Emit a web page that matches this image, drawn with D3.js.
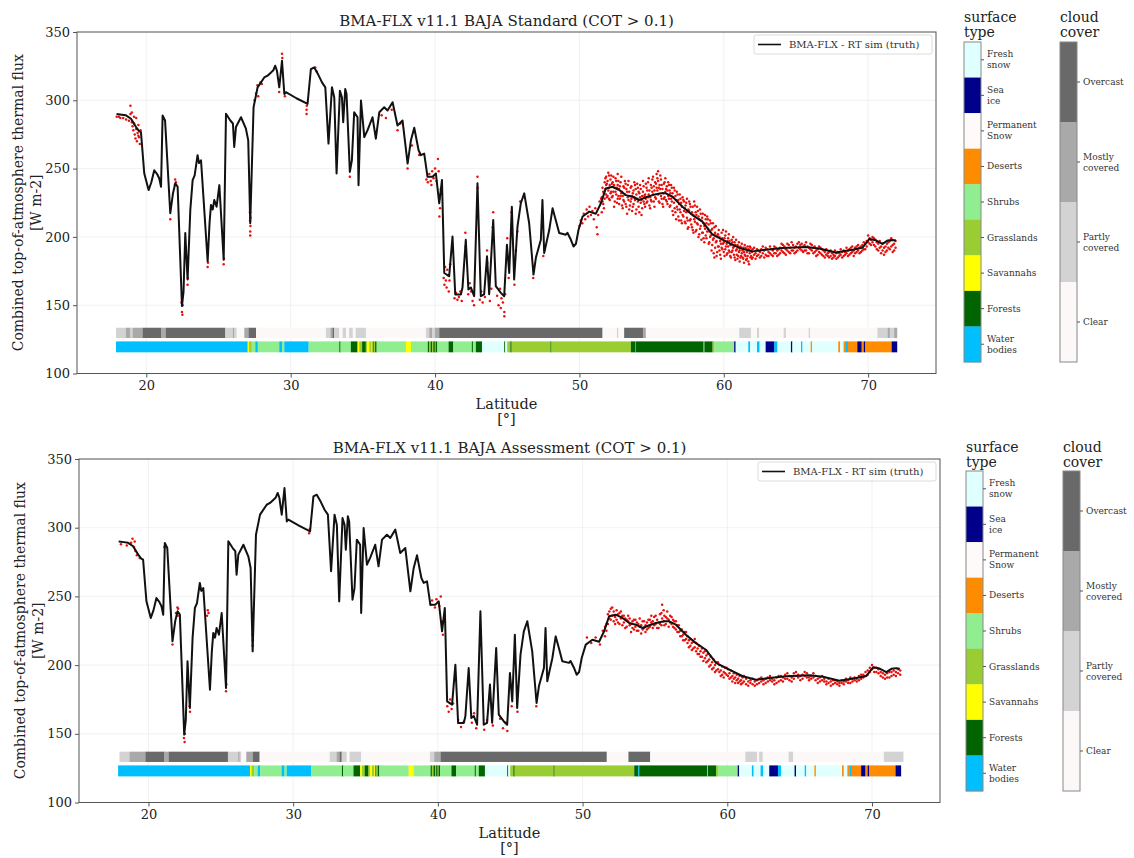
<!DOCTYPE html>
<html><head><meta charset="utf-8">
<script src="https://cdn.jsdelivr.net/npm/d3@7"></script>
<style>body{margin:0;background:#fff}svg{display:block;font-family:"DejaVu Serif",serif}</style>
</head><body><svg id="c" width="1134" height="858"></svg>
<script>
// ---------------- DATA ----------------
const xTicks = [20, 30, 40, 50, 60, 70];
const yTicks = [100, 150, 200, 250, 300, 350];
const xDomain = [15.2, 74.7];
const yDomain = [100, 350];

// BMA-FLX RT sim (truth): [latitude, flux]
const truth = [
[17.94,290],[18.3,289.5],[18.59,289],[18.94,286.5],[19.29,280.4],[19.5,277.5],[19.63,276.7],[19.86,246.4],[20.16,234.3],[20.35,240],[20.55,248.8],[20.75,246],[20.9,242.8],[21.02,236.7],[21.13,288.9],[21.3,285.2],[21.66,217.3],[21.85,232],[22.01,239.2],[22.17,236.7],[22.47,149.4],[22.58,160],[22.7,202.8],[22.86,168.8],[23.05,220],[23.21,241.6],[23.35,245],[23.55,259.8],[23.65,254],[23.79,256.1],[24.25,182.1],[24.38,210],[24.48,223.4],[24.6,220],[24.71,227],[24.87,222.1],[25.06,237.9],[25.36,183.3],[25.52,290.1],[25.82,285.2],[26.0,283],[26.09,265.8],[26.21,280.4],[26.56,287.6],[26.9,279.2],[27.06,270.7],[27.2,210],[27.43,294.9],[27.71,309.5],[28.17,316.7],[28.4,318],[28.64,320.4],[28.8,322],[28.93,325.3],[29.05,321.6],[29.21,309.5],[29.4,328.9],[29.56,304.6],[29.67,305.9],[30.4,301.5],[31.17,297.4],[31.4,322.8],[31.63,324],[31.9,319],[32.17,313.1],[32.4,309.5],[32.62,268.3],[32.86,309.5],[33.02,302],[33.18,246.4],[33.41,307],[33.55,302.2],[33.64,284],[33.78,308.3],[33.87,304.6],[34.1,247.6],[34.24,256.1],[34.4,291.3],[34.63,287.6],[34.7,237.9],[34.87,299.8],[35.1,273.1],[35.32,278],[35.67,287.6],[35.9,271.9],[36.14,291.3],[36.48,294.9],[36.71,292.5],[37.06,298.6],[37.4,281.6],[37.75,285.2],[38.1,253.7],[38.33,270.7],[38.56,279.9],[38.86,263.4],[39.02,259.8],[39.25,261],[39.48,244],[39.83,244],[40.06,246.4],[40.29,224.6],[40.48,241.6],[40.64,173.6],[40.98,171.2],[41.21,200.3],[41.4,157.8],[41.79,157.8],[41.9,162.7],[42.13,197.9],[42.31,161.5],[42.48,163],[42.71,156.6],[42.94,239.2],[43.17,156.6],[43.4,158],[43.6,185.8],[43.75,158],[44.03,212.4],[44.21,163.9],[44.56,159],[44.79,156.6],[44.98,194.3],[45.14,173.6],[45.32,222.1],[45.48,168.8],[45.71,207.6],[45.94,224.6],[46.18,231.9],[46.52,210],[46.82,172.4],[46.99,185],[47.33,197.9],[47.44,227],[47.56,188.2],[47.91,205],[48.14,220.9],[48.37,212],[48.6,202.8],[49.06,201.6],[49.17,203],[49.41,197.9],[49.59,193],[49.76,195],[49.94,205.2],[50.22,214.9],[50.68,218.5],[51.14,217],[51.49,224.6],[51.83,235.5],[52.29,236.7],[52.76,234.3],[53.22,230.6],[53.68,229.4],[54.14,227],[54.61,229],[55.07,230.6],[55.65,231.9],[55.99,231.9],[56.45,229.4],[57.14,222.1],[57.83,216],[58.52,211.2],[59.22,201.6],[60.14,196.7],[61.07,191.9],[61.99,189.4],[62.91,190.6],[64.07,191.9],[65.69,192.6],[66.61,191.5],[67.76,188.6],[68.91,190.6],[69.6,192],[70.07,198.4],[70.53,197.5],[70.99,194.9],[71.34,197.3],[71.68,197.8],[71.92,197.3]
];

// Retrieval, Standard: [latitude, flux values...]
const redStandard = [
[17.95,288],[18.1,288],[18.2,287],[18.4,287],[18.6,286],[18.8,285],[18.9,296,290],[19.0,284,291],[19.05,281],[19.1,278],[19.15,283,288],[19.2,275],[19.25,272],[19.3,279,287],[19.35,270],[19.4,276],[19.45,282,274],[19.5,273],[19.55,268],[19.6,278],
[21.66,213],[21.98,238],[22.0,242],[22.05,240],[22.44,152],[22.47,145],[22.5,143],[22.52,150],[22.86,165],[22.88,170],[24.25,178],[24.27,181],[25.36,180],[25.38,184],
[27.18,218],[27.19,212],[27.2,204,201],[27.21,208],[27.22,214],[27.5,300],[27.6,305],[27.7,311],[27.75,303],[27.9,313],[28.0,312],[29.2,306],[29.4,334],[29.42,331],[29.6,303],[31.1,293,290],[31.12,296],[31.7,324],[31.8,321],
[34.1,244],[36.3,289],[36.6,287],[37.0,293],[37.4,278],[37.6,283],[38.1,250],[38.4,267],[38.9,260],
[39.4,242],[39.5,240],[39.6,246],[39.7,241],[39.75,238],[39.8,248],[39.9,243],[40.0,250],[40.1,241],[40.2,257],[40.25,248],[40.3,228,215],[40.35,221],[40.4,235],
[40.6,170],[40.65,165],[40.7,178],[40.75,168],[40.8,163],[40.85,176],[40.9,172],[40.95,160],[41.0,168],[41.05,180],
[41.35,155],[41.45,159],[41.55,154],[41.65,156],[41.75,160],[41.85,153],[42.1,203],[42.12,193],[42.3,158],[42.4,166],[42.5,160],[42.6,153],[42.7,150],[42.94,244],[42.95,236],
[43.1,154],[43.2,160],[43.3,152],[43.45,156],[43.6,190],[43.62,181],[43.8,153],[43.9,162],[44.0,207],[44.03,218],
[44.3,157],[44.4,150],[44.5,162],[44.55,148],[44.6,155],[44.7,152],[44.8,145,142],[44.85,158],[45.0,199],[45.1,170],[45.3,218],[45.5,165],[45.6,190],[45.7,204],[45.9,226],[46.8,170],[46.85,175],[47.5,186],[47.6,191],
[50.0,208],[50.1,212],[50.2,210],[50.3,217],[50.4,213],[50.5,220],[50.6,215],[50.7,222],[50.8,216],[50.9,219],[51.0,213],[51.1,221],[51.2,207],[51.25,202],[51.3,216],[51.4,226],[51.5,228],
[51.55,229,218],[51.65,233,224],[51.75,240,228],[51.85,238,231,244],[51.95,241,230],[52.05,236,245,228],[52.15,242,232],[52.25,239,229],[52.35,244,233],[52.45,236,226],[52.55,241,231],[52.65,238,228,246],[52.75,235,224],[52.85,240,230],[52.95,233,223],
[53.05,237,227],[53.15,231,241],[53.25,235,222],[53.35,229,238],[53.45,233,220],[53.55,236,226],[53.65,230,219],[53.75,234,224],[53.85,227,238],[53.95,231,220],
[54.05,226,236],[54.15,232,218],[54.25,225,235],[54.35,230,221],[54.45,237,226],[54.55,231,222],[54.65,236,225],[54.75,229,240],[54.85,234,223],[54.95,238,227],
[55.05,233,242],[55.15,226,237],[55.25,240,229],[55.35,236,246],[55.45,231,241,248],[55.55,238,225],[55.65,242,230],[55.75,235,224],[55.85,239,228],[55.95,233,243],
[56.05,237,226],[56.15,230,240],[56.25,234,222],[56.35,228,238],[56.45,232,219],[56.55,225,236],[56.65,230,218],[56.75,222,233],[56.85,227,215],[56.95,220,231],
[57.05,225,212],[57.15,229,216],[57.25,219,226],[57.35,223,210],[57.45,214,228],[57.55,220,207],[57.65,224,212],[57.75,217,209],[57.85,222,205],[57.95,213,226],
[58.05,218,204],[58.15,210,222],[58.25,215,200],[58.35,206,220],[58.45,212,198],[58.55,217,203],[58.65,208,196],[58.75,213,201],[58.85,204,215],[58.95,209,195],
[59.05,200,212],[59.15,205,190],[59.25,198,210],[59.35,202,185,207],[59.45,196,208],[59.55,201,189],[59.65,205,193],[59.75,197,187],[59.85,203,192],[59.95,195,205],
[60.05,199,186],[60.15,193,204],[60.25,197,188],[60.35,202,190],[60.45,194,186],[60.55,198,189],[60.65,192,200],[60.75,196,185],[60.85,190,198],[60.95,194,184],
[61.05,189,196],[61.15,193,185],[61.25,188,195],[61.35,192,184],[61.45,187,194],[61.55,191,183],[61.65,186,193],[61.75,190,180],[61.85,185,192],[61.95,189,184],
[62.1,187,192],[62.3,186,191],[62.5,189,185],[62.7,188,193],[62.9,187,192],[63.1,189,186],[63.3,191,187],[63.5,188,193],[63.7,190,186],[63.9,192,188],
[64.1,189,194],[64.3,191,187],[64.5,194,189],[64.7,190,196],[64.9,192,188],[65.1,195,190],[65.3,191,194],[65.5,193,189],[65.7,196,190],[65.9,192,188],
[66.1,194,190],[66.3,189,193],[66.5,191,187],[66.7,188,192],[66.9,190,186],[67.1,187,191],[67.3,185,189],[67.5,188,184],[67.7,186,190],[67.9,189,185],
[68.1,187,191],[68.3,190,186],[68.5,188,192],[68.7,191,187],[68.9,189,193],[69.1,192,188],[69.3,190,194],[69.5,193,189],[69.7,191,196],[69.9,197,193],
[70.1,199,195],[70.3,196,200],[70.5,193,198],[70.7,190,195],[70.9,188,193],[71.1,192,187],[71.3,195,190],[71.5,191,197],[71.7,194,189],[71.9,197,192]
];
// Retrieval, Standard: additional samples between the rows above
const redStandardExtra = [
[51.6,226,236],[51.7,232,221],[51.8,235,243],[51.9,229,239],[52.0,234,247],[52.1,227,238],[52.2,245,233],[52.3,230,240],[52.4,238,222],[52.5,233,243],
[52.6,225,236],[52.7,241,230],[52.8,228,237],[52.9,244,232],[53.0,230,221],[53.1,236,226],[53.2,224,239],[53.3,233,217],[53.4,241,227],[53.5,230,223],
[53.6,237,228],[53.7,222,232],[53.8,229,240],[53.9,235,217],[54.0,228,239],[54.1,222,233],[54.2,238,229],[54.3,227,216],[54.4,233,241],[54.5,224,230],
[54.6,239,228],[54.7,226,234],[54.8,243,231],[54.9,229,221],[55.0,236,226],[55.1,244,231],[55.2,234,222],[55.3,228,239],[55.4,243,234],[55.5,226,236],
[55.6,235,245],[55.7,228,238],[55.8,232,222],[55.9,240,229],[56.0,227,235],[56.1,234,224],[56.2,238,228],[56.3,223,232],[56.4,236,226],[56.5,229,216],
[56.6,221,234],[56.7,227,213],[56.8,231,220],[56.9,224,212],[57.0,218,228],[57.1,222,210],[57.2,227,215],[57.3,211,221],[57.4,218,225],[57.5,212,206],
[57.6,219,226],[57.7,213,222],[57.8,207,218],[57.9,216,203],[58.0,211,223],[58.1,205,216],[58.2,219,209],[58.3,213,202],[58.4,208,217],[58.5,203,214],
[58.6,210,199],[58.7,206,216],[58.8,199,210],[58.9,206,213],[59.0,196,204],[59.1,201,210],[59.2,194,206],[59.3,188,199],[59.4,203,192],[59.5,197,186],
[59.6,193,202],[59.7,200,190],[59.8,195,184],[59.9,191,199],[60.0,196,189],[60.1,201,191],[60.2,187,195],[60.3,193,199],[60.4,189,197],[60.5,194,185],
[60.6,190,196],[60.7,187,193],[60.8,194,183],[60.9,191,187],[61.0,186,193],[61.1,190,182],[61.2,192,186],[61.3,185,190],[61.4,189,181],[61.5,186,192],
[61.6,189,184],[61.7,182,191],[61.8,188,193],[61.9,186,190],[62.0,191,185],[62.2,188,184],[62.4,190,187],[62.6,186,191],[62.8,190,185],[63.0,186,191],
[63.2,188,193],[63.4,190,186],[63.6,192,188],[63.8,187,191],[64.0,190,195],[64.2,193,188],[64.4,190,195],[64.6,192,188],[64.8,194,190],[65.0,189,193],
[65.2,192,196],[65.4,195,190],[65.6,190,194],[65.8,193,188],[66.0,191,195],[66.2,192,188],[66.4,190,186],[66.6,193,189],[66.8,187,191],[67.0,189,185],
[67.2,188,186],[67.4,190,186],[67.6,187,185],[67.8,184,188],[68.0,188,186],[68.2,185,189],[68.4,189,187],[68.6,190,186],[68.8,188,192],[69.0,190,186],
[69.2,189,193],[69.4,192,188],[69.6,194,190],[69.8,195,191],[70.0,196,201],[70.2,198,194],[70.4,194,199],[70.6,196,191],[70.8,192,197],[71.0,190,195],
[71.2,193,189],[71.4,196,192],[71.6,193,199],[71.8,195,190]
];

// Retrieval, Assessment: [latitude, flux values...]
const redAssessment = [
[18.1,288],[18.5,287],[18.8,289],[18.9,292],[19.0,286],[19.05,290],[19.1,283],[19.2,280],[19.4,278],[21.1,286],
[21.66,215],[21.9,238],[22.0,242],[22.02,236],[22.05,241],[22.45,147],[22.5,144],[22.52,150],[22.85,170],[22.87,166],[24.1,240],[24.05,236],[24.15,238],[25.36,181],[25.38,186],
[27.19,222],[27.2,214],[27.21,218],[31.1,296],[31.15,299],
[39.5,244],[39.6,247],[39.8,242],[39.9,248],[40.0,246],[40.1,243],[40.2,250],[40.3,232],[40.35,222],
[40.65,170],[40.75,166],[40.85,175],[40.95,168],[41.05,172],[41.4,160],[41.6,155],[41.8,159],[42.35,158],[42.5,165],[42.65,154],[43.2,153],[43.4,160],[43.8,156],
[44.3,161],[44.5,154],[44.7,158],[44.8,152],[45.1,170],[45.5,166],[46.8,170],
[50.3,220],[50.6,216],[50.9,220],[51.2,215],[51.4,225],
[51.55,228,221],[51.75,237,230],[51.95,241,233],[52.15,239,232],[52.35,240,233],[52.55,238,230],[52.75,236,229],[52.95,234,227],[53.15,232,236],[53.35,230,224],
[53.55,233,226],[53.75,231,225],[53.95,228,234],[54.15,226,232],[54.35,229,224],[54.55,233,227],[54.75,231,236],[54.95,229,235],[55.15,233,227],[55.35,237,230],
[55.5,244,234],[55.65,236,229],[55.85,234,239],[56.05,231,236],[56.25,228,233],[56.45,226,232],[56.65,224,229],[56.85,221,226],[57.05,218,224],[57.25,216,221],
[57.45,214,219],[57.65,212,217],[57.85,210,216],[58.05,208,214],[58.25,206,212],[58.45,205,210],[58.65,203,208],[58.85,200,206],[59.05,198,204],[59.25,196,202],
[59.45,195,200],[59.65,193,199],[59.85,194,198],[60.05,192,197],[60.25,191,196],[60.45,190,194],[60.65,189,193],[60.85,188,192],[61.05,187,191],[61.3,186,190],
[61.6,187,189],[61.9,185,188],[62.2,187,190],[62.5,186,189],[62.8,188,191],[63.1,188,190],[63.4,187,191],[63.7,189,192],[64.0,190,193],[64.3,189,192],
[64.6,190,194],[64.9,191,193],[65.2,190,193],[65.5,191,194],[65.8,190,192],[66.1,189,192],[66.4,188,191],[66.7,188,190],[67.0,187,190],[67.3,186,189],
[67.6,186,188],[67.9,187,189],[68.2,188,190],[68.5,187,191],[68.8,189,191],[69.1,189,192],[69.4,191,193],[69.7,193,196],[70.0,197,200],[70.3,195,198],
[70.6,192,195],[70.9,190,193],[71.2,191,195],[71.5,193,196],[71.8,194,197]
];
// Retrieval, Assessment: additional samples between the rows above
const redAssessmentExtra = [
[51.65,230,225],[51.85,234,239],[52.05,236,242],[52.25,235,230],[52.45,237,231],[52.65,234,239],[52.85,231,236],[53.05,233,228],[53.25,229,234],[53.45,232,227],
[53.65,228,233],[53.85,230,225],[54.05,229,223],[54.25,227,232],[54.45,231,226],[54.65,228,233],[54.85,232,227],[55.05,230,236],[55.25,231,227],[55.45,229,238],
[55.6,232,240],[55.75,230,235],[55.95,233,228],[56.15,230,235],[56.35,227,232],[56.55,229,224],[56.75,225,221],[56.95,222,218],[57.15,219,224],[57.35,218,213],
[57.55,216,211],[57.75,213,219],[57.95,212,208],[58.15,210,206],[58.35,209,203],[58.55,207,202],[58.75,204,199],[58.95,202,197],[59.15,200,195],[59.35,197,202],
[59.55,196,192],[59.75,195,191],[59.95,193,198],[60.15,194,190],[60.35,192,188],[60.55,191,187],[60.75,190,187],[60.95,189,186],[61.15,188,192],[61.45,188,185],
[61.75,186,190],[62.05,189,186],[62.35,188,191],[62.65,190,187],[62.95,189,192],[63.25,189,186],[63.55,188,192],[63.85,191,188],[64.15,190,194],[64.45,191,188],
[64.75,192,195],[65.05,192,189],[65.35,192,195],[65.65,191,189],[65.95,191,194],[66.25,190,187],[66.55,189,192],[66.85,188,186],[67.15,188,185],[67.45,187,189],
[67.75,187,185],[68.05,188,186],[68.35,189,187],[68.65,188,190],[68.95,190,188],[69.25,190,193],[69.55,192,195],[69.85,195,198],[70.15,198,195],[70.45,194,197],
[70.75,191,194],[71.05,191,194],[71.35,192,195],[71.65,195,192],[71.95,196,193]
];

// surface type categories (colorbar order, top to bottom)
const surfaceKeys = ["N","I","P","D","H","G","S","F","W"];
const surfaceNames = ["Fresh\nsnow","Sea\nice","Permanent\nSnow","Deserts","Shrubs","Grasslands","Savannahs","Forests","Water\nbodies"];
const cloudKeys = ["O","M","P","C"];
const cloudNames = ["Overcast","Mostly\ncovered","Partly\ncovered","Clear"];

// surface type along track: [start lat, end lat, key]
const surfaceSegments = [
[17.9,27.02,"W"],[27.02,27.12,"S"],[27.12,27.3,"G"],[27.3,27.55,"H"],[27.55,27.72,"W"],[27.72,29.21,"H"],[29.21,29.4,"W"],[29.4,29.56,"H"],[29.56,31.24,"W"],
[31.24,33.37,"H"],[33.37,33.45,"F"],[33.45,34.17,"H"],[34.17,34.63,"F"],[34.63,34.75,"S"],[34.75,34.95,"G"],[34.95,35.2,"F"],[35.2,35.3,"G"],[35.3,35.45,"S"],
[35.45,35.6,"G"],[35.6,35.68,"S"],[35.68,35.75,"F"],[35.75,35.85,"G"],[35.85,35.95,"F"],[35.95,37.98,"H"],[37.98,38.33,"S"],[38.33,39.5,"H"],[39.5,39.58,"F"],
[39.58,39.7,"G"],[39.7,39.8,"F"],[39.8,39.88,"G"],[39.88,39.98,"F"],[39.98,40.05,"G"],[40.05,40.15,"F"],[40.15,40.94,"H"],[40.94,41.26,"F"],[41.26,42.55,"H"],
[42.55,42.62,"F"],[42.62,42.83,"H"],[42.83,43.25,"F"],[43.25,44.79,"N"],[44.79,44.86,"F"],[44.86,45.0,"N"],[45.0,45.22,"G"],[45.22,45.3,"F"],[45.3,48.0,"G"],
[48.0,48.06,"F"],[48.06,53.57,"G"],[53.57,53.85,"F"],[53.85,53.92,"W"],[53.92,58.6,"F"],[58.6,58.66,"H"],[58.66,59.22,"F"],[59.22,59.35,"G"],[59.35,60.72,"H"],
[60.72,60.82,"I"],[60.82,61.7,"N"],[61.7,61.82,"W"],[61.82,62.3,"N"],[62.3,62.48,"W"],[62.48,62.9,"N"],[62.9,63.5,"I"],[63.5,63.72,"W"],[63.72,64.65,"N"],
[64.65,64.75,"I"],[64.75,65.35,"N"],[65.35,65.45,"W"],[65.45,66.02,"N"],[66.02,66.12,"D"],[66.12,67.93,"N"],[67.93,68.05,"D"],[68.05,68.3,"N"],[68.3,68.45,"D"],
[68.45,68.6,"W"],[68.6,69.25,"D"],[69.25,69.55,"I"],[69.55,69.7,"D"],[69.7,69.8,"I"],[69.8,71.63,"D"],[71.63,72.0,"I"]
];

// cloud cover along track: [start lat, end lat, key]
const cloudStandard = [
[17.9,18.59,"P"],[18.59,18.9,"M"],[18.9,19.05,"P"],[19.05,19.75,"M"],[19.75,21.02,"O"],[21.02,21.36,"M"],[21.36,25.47,"O"],[25.47,26.0,"P"],[26.0,26.1,"M"],
[26.1,26.26,"P"],[26.26,26.79,"C"],[26.79,27.09,"M"],[27.09,27.6,"O"],[27.6,32.44,"C"],[32.44,32.75,"P"],[32.75,32.9,"M"],[32.9,33.0,"O"],[33.0,33.37,"P"],
[33.37,33.6,"C"],[33.6,33.83,"P"],[33.83,34.05,"C"],[34.05,34.3,"P"],[34.3,34.5,"C"],[34.5,35.21,"P"],[35.21,39.37,"C"],[39.37,39.6,"P"],[39.6,39.8,"M"],
[39.8,40.0,"P"],[40.0,40.29,"M"],[40.29,51.6,"O"],[51.6,52.6,"C"],[52.6,52.7,"P"],[52.7,53.1,"C"],[53.1,54.4,"O"],[54.4,54.6,"M"],[54.6,61.07,"C"],
[61.07,61.88,"P"],[61.88,62.3,"C"],[62.3,62.45,"P"],[62.45,64.15,"C"],[64.15,64.3,"P"],[64.3,65.88,"C"],[65.88,65.98,"P"],[65.98,70.64,"C"],[70.64,71.35,"P"],
[71.35,71.5,"M"],[71.5,71.8,"P"],[71.8,72.0,"M"]
];
const cloudAssessment = [
[18.0,18.69,"P"],[18.69,19.79,"M"],[19.79,21.1,"O"],[21.1,21.41,"M"],[21.41,25.49,"O"],[25.49,26.2,"P"],[26.2,26.3,"M"],[26.3,26.41,"P"],[26.41,26.76,"C"],
[26.76,27.22,"M"],[27.22,27.68,"O"],[27.68,32.53,"C"],[32.53,33.0,"P"],[33.0,33.22,"M"],[33.22,33.35,"O"],[33.35,33.7,"P"],[33.7,33.9,"C"],[33.9,34.7,"P"],
[34.7,39.45,"C"],[39.45,39.75,"P"],[39.75,40.2,"M"],[40.2,51.67,"O"],[51.67,53.17,"C"],[53.17,54.67,"O"],[54.67,61.25,"C"],[61.25,62.05,"P"],[62.05,62.2,"C"],
[62.2,62.45,"P"],[62.45,64.24,"C"],[64.24,64.54,"P"],[64.54,70.82,"C"],[70.82,72.16,"P"]
];

// ---------------- STYLE ----------------
const surfaceColor = d3.scaleOrdinal().domain(surfaceKeys)
  .range(["#e0ffff","#00008b","#fffafa","#ff8c00","#90ee90","#9acd32","#ffff00","#006400","#00bfff"]);
const cloudColor = d3.scaleOrdinal().domain(cloudKeys)
  .range(["#696969","#a9a9a9","#d3d3d3","#fcf8f8"]);

const svg = d3.select("#c");

function flatten(rows) {
  return rows.flatMap(r => r.slice(1).map(v => [r[0], v]));
}

function panel(cfg) {
  const x = d3.scaleLinear().domain(xDomain).range([cfg.x0, cfg.x1]);
  const y = d3.scaleLinear().domain(yDomain).range([cfg.y1, cfg.y0]);
  const g = svg.append("g");

  // grid
  g.selectAll(null).data(xTicks).join("line")
    .attr("x1", d => x(d)).attr("x2", d => x(d)).attr("y1", cfg.y0).attr("y2", cfg.y1)
    .attr("stroke", "#ededed").attr("stroke-width", 0.8);
  g.selectAll(null).data(yTicks).join("line")
    .attr("x1", cfg.x0).attr("x2", cfg.x1).attr("y1", d => y(d)).attr("y2", d => y(d))
    .attr("stroke", "#ededed").attr("stroke-width", 0.8);

  // strips
  g.selectAll(null).data(cfg.cloud).join("rect")
    .attr("x", d => x(d[0])).attr("width", d => x(d[1]) - x(d[0]) + 0.2)
    .attr("y", y(cfg.cloudBand[1])).attr("height", y(cfg.cloudBand[0]) - y(cfg.cloudBand[1]))
    .attr("fill", d => cloudColor(d[2]));
  g.selectAll(null).data(surfaceSegments).join("rect")
    .attr("x", d => x(d[0])).attr("width", d => x(d[1]) - x(d[0]) + 0.2)
    .attr("y", y(cfg.surfBand[1])).attr("height", y(cfg.surfBand[0]) - y(cfg.surfBand[1]))
    .attr("fill", d => surfaceColor(d[2]));

  // retrieval dots
  g.selectAll(null).data(flatten(cfg.red)).join("circle")
    .attr("cx", d => x(d[0])).attr("cy", d => y(d[1])).attr("r", 1.25)
    .attr("fill", "#e8100c");

  // truth line
  g.append("path").datum(truth)
    .attr("d", d3.line().x(d => x(d[0])).y(d => y(d[1])))
    .attr("fill", "none").attr("stroke", "#111").attr("stroke-width", 2)
    .attr("stroke-linejoin", "round");

  // frame
  g.append("rect").attr("x", cfg.x0).attr("y", cfg.y0)
    .attr("width", cfg.x1 - cfg.x0).attr("height", cfg.y1 - cfg.y0)
    .attr("fill", "none").attr("stroke", "#555").attr("stroke-width", 1);

  // axes
  const ax = g.append("g").attr("transform", `translate(0,${cfg.y1})`)
    .call(d3.axisBottom(x).tickValues(xTicks).tickSize(4).tickPadding(3).tickFormat(d3.format("d")));
  const ay = g.append("g").attr("transform", `translate(${cfg.x0},0)`)
    .call(d3.axisLeft(y).tickValues(yTicks).tickSize(4).tickPadding(3).tickFormat(d3.format("d")));
  [ax, ay].forEach(a => {
    a.select(".domain").remove();
    a.attr("font-family", null).attr("font-size", 13);
    a.selectAll("line").attr("stroke", "#555");
    a.selectAll("text").attr("fill", "#222");
  });

  // title
  g.append("text").attr("x", (cfg.x0 + cfg.x1) / 2).attr("y", cfg.titleY)
    .attr("text-anchor", "middle").attr("font-size", 15).attr("fill", "#222").text(cfg.title);

  // x label
  const xm = (cfg.x0 + cfg.x1) / 2;
  g.append("text").attr("x", xm).attr("y", cfg.y1 + 35).attr("text-anchor", "middle")
    .attr("font-size", 14.5).attr("fill", "#222").text("Latitude");
  g.append("text").attr("x", xm).attr("y", cfg.y1 + 50).attr("text-anchor", "middle")
    .attr("font-size", 14.5).attr("fill", "#222").text("[°]");

  // y label
  const ym = (cfg.y0 + cfg.y1) / 2;
  g.append("text").attr("transform", `translate(${cfg.ylx[0]},${ym}) rotate(-90)`)
    .attr("text-anchor", "middle").attr("dominant-baseline", "central")
    .attr("font-size", 14).attr("fill", "#222").text("Combined top-of-atmosphere thermal flux");
  g.append("text").attr("transform", `translate(${cfg.ylx[1]},${ym}) rotate(-90)`)
    .attr("text-anchor", "middle").attr("dominant-baseline", "central")
    .attr("font-size", 14).attr("fill", "#222").text("[W m-2]");

  // legend
  const lw = 178, lh = 19;
  const lx = cfg.x1 - lw - 4, ly = cfg.y0 + 3;
  g.append("rect").attr("x", lx).attr("y", ly).attr("width", lw).attr("height", lh)
    .attr("rx", 2).attr("fill", "#fff").attr("fill-opacity", 0.85).attr("stroke", "#dcdcdc");
  g.append("line").attr("x1", lx + 4).attr("x2", lx + 27).attr("y1", ly + lh / 2).attr("y2", ly + lh / 2)
    .attr("stroke", "#111").attr("stroke-width", 1.6);
  g.append("text").attr("x", lx + 35).attr("y", ly + lh / 2).attr("dominant-baseline", "central")
    .attr("font-size", 10).attr("fill", "#333").text("BMA-FLX - RT sim (truth)");

  // colorbars
  colorbar(cfg.cb.sx, cfg.cb, ["surface", "type"], surfaceKeys, surfaceNames, surfaceColor);
  colorbar(cfg.cb.cx, cfg.cb, ["cloud", "cover"], cloudKeys, cloudNames, cloudColor);
}

function colorbar(x0, cb, title, keys, names, color) {
  const g = svg.append("g");
  const yb = d3.scaleBand().domain(keys).range([cb.y0, cb.y1]);
  g.selectAll(null).data(keys).join("rect")
    .attr("x", x0).attr("y", d => yb(d)).attr("width", cb.w).attr("height", yb.bandwidth() + 0.3)
    .attr("fill", d => color(d));
  g.append("rect").attr("x", x0).attr("y", cb.y0).attr("width", cb.w).attr("height", cb.y1 - cb.y0)
    .attr("fill", "none").attr("stroke", "#888").attr("stroke-width", 1);
  keys.forEach((k, i) => {
    const yc = yb(k) + yb.bandwidth() / 2;
    g.append("line").attr("x1", x0 + cb.w).attr("x2", x0 + cb.w + 3).attr("y1", yc).attr("y2", yc)
      .attr("stroke", "#555");
    const lines = names[i].split("\n");
    const t = g.append("text").attr("x", x0 + cb.w + 6).attr("font-size", 9).attr("fill", "#333");
    lines.forEach((ln, j) => {
      t.append("tspan").attr("x", x0 + cb.w + 6)
        .attr("y", yc + (j - (lines.length - 1) / 2) * 11)
        .attr("dominant-baseline", "central").text(ln);
    });
  });
  title.forEach((s, j) => {
    g.append("text").attr("x", x0).attr("y", cb.t1 + j * 15).attr("font-size", 14)
      .attr("fill", "#222").text(s);
  });
}

panel({
  x0: 77, x1: 936, y0: 32, y1: 373.5, titleY: 26,
  title: "BMA-FLX v11.1 BAJA Standard (COT > 0.1)",
  red: redStandard.concat(redStandardExtra), cloud: cloudStandard,
  cloudBand: [126, 133.5], surfBand: [115.5, 123.5],
  ylx: [18, 36],
  cb: { sx: 964, cx: 1060, w: 17, y0: 42, y1: 362, t1: 22 }
});
panel({
  x0: 79, x1: 940, y0: 459, y1: 802.5, titleY: 453,
  title: "BMA-FLX v11.1 BAJA Assessment (COT > 0.1)",
  red: redAssessment.concat(redAssessmentExtra), cloud: cloudAssessment,
  cloudBand: [129.5, 137], surfBand: [119, 127],
  ylx: [20, 38],
  cb: { sx: 966, cx: 1063, w: 17, y0: 471, y1: 791, t1: 452 }
});
</script>
</body></html>
